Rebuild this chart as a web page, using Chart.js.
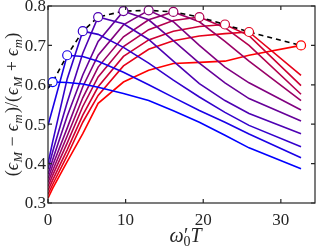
<!DOCTYPE html>
<html>
<head>
<meta charset="utf-8">
<script src="https://cdn.jsdelivr.net/npm/chart.js@4.4.1/dist/chart.umd.min.js"></script>
<style>
html, body { margin: 0; padding: 0; background: #fff; }
</style>
</head>
<body>
<canvas id="myChart" width="316" height="248"></canvas>
<script>
// ========== data
const xs = [0, 0.6, 2.47, 4.48, 6.46, 9.72, 12.97, 16.15, 19.5, 22.8, 25.9, 32.6]

const c0  = [0.591, 0.607, 0.606, 0.602, 0.594, 0.578, 0.560, 0.534, 0.505, 0.472, 0.440, 0.387]
const c1  = [0.497, 0.540, 0.675, 0.672, 0.660, 0.632, 0.600, 0.568, 0.535, 0.505, 0.475, 0.415]
const c2  = [0.400, 0.455, 0.615, 0.736, 0.728, 0.695, 0.655, 0.612, 0.569, 0.530, 0.497, 0.443]
const c3  = [0.386, 0.430, 0.555, 0.680, 0.772, 0.755, 0.715, 0.660, 0.603, 0.560, 0.527, 0.476]
const c4  = [0.373, 0.410, 0.520, 0.625, 0.710, 0.787, 0.765, 0.712, 0.655, 0.605, 0.565, 0.508]
const c5  = [0.362, 0.395, 0.490, 0.595, 0.675, 0.752, 0.789, 0.760, 0.700, 0.645, 0.605, 0.536]
const c6  = [0.352, 0.382, 0.470, 0.567, 0.645, 0.722, 0.765, 0.785, 0.760, 0.710, 0.660, 0.560]
const c7  = [0.342, 0.370, 0.452, 0.545, 0.620, 0.697, 0.740, 0.763, 0.772, 0.745, 0.700, 0.576]
const c8  = [0.332, 0.358, 0.435, 0.523, 0.595, 0.672, 0.714, 0.736, 0.748, 0.753, 0.725, 0.598]
const c9  = [0.322, 0.347, 0.420, 0.505, 0.573, 0.648, 0.690, 0.712, 0.724, 0.730, 0.734, 0.624]
const c10 = [0.312, 0.337, 0.405, 0.476, 0.553, 0.607, 0.637, 0.654, 0.657, 0.660, 0.675, 0.700]
const series = [c0, c1, c2, c3, c4, c5, c6, c7, c8, c9, c10]

// maxima of each curve (circles) and the dashed envelope
const peakX = [0.6, 2.47, 4.48, 6.46, 9.72, 12.97, 16.15, 19.5, 22.8, 25.9, 32.6]
const peakY = [0.607, 0.675, 0.736, 0.772, 0.787, 0.789, 0.785, 0.772, 0.753, 0.734, 0.700]
const envX = [0].concat(peakX)
const envY = [0.591].concat(peakY)

const xTicks = [0, 10, 20, 30]
const yTicks = [0.3, 0.4, 0.5, 0.6, 0.7, 0.8]
const yLabels = ['0.3', '0.4', '0.5', '0.6', '0.7', '0.8']

// blue -> red
const colors = [
	'rgb(0,0,255)', 'rgb(26,0,230)', 'rgb(51,0,204)', 'rgb(77,0,179)',
	'rgb(102,0,153)', 'rgb(128,0,128)', 'rgb(153,0,102)', 'rgb(179,0,77)',
	'rgb(204,0,51)', 'rgb(230,0,26)', 'rgb(255,0,0)'
]

const serif = "'Liberation Serif', 'DejaVu Serif', serif"
const ink = '#262626'

function pts(xv, yv){
	return xv.map((v, i) => ({x: v, y: yv[i]}))
}


// ========== frame, inward ticks and math titles

function setFont(ctx, st, size){
	let sub = st.indexOf('s') >= 0
	let it = st.indexOf('i') >= 0
	ctx.font = (it ? 'italic ' : '') + (sub ? size * 0.7 : size) + 'px ' + serif
	return sub
}

// parts: [text, style, extra gap]  n = normal, i = italic, s = subscript, p = prime (no advance)
function drawParts(ctx, parts, x, y, size){
	let cx = x
	parts.forEach(([t, st, gap]) => {
		let sub = setFont(ctx, st, size)
		if (st === 'p'){
			ctx.fillText(t, cx + 0.5, y)
			return
		}
		cx += (gap || 0)
		ctx.fillText(t, cx, y + (sub ? size * 0.22 : 0))
		cx += ctx.measureText(t).width + (gap || 0)
	})
}

function partsWidth(ctx, parts, size){
	let w = 0
	parts.forEach(([t, st, gap]) => {
		if (st === 'p') return
		setFont(ctx, st, size)
		w += ctx.measureText(t).width + 2 * (gap || 0)
	})
	return w
}

const yTitle = [
	['(', 'n'], ['\u03f5', 'i'], ['M', 'is', 0.5], ['\u2212', 'n', 5], ['\u03f5', 'i'], ['m', 'is', 0.5],
	[')/(', 'n', 1], ['\u03f5', 'i'], ['M', 'is', 0.5], ['+', 'n', 5], ['\u03f5', 'i'], ['m', 'is', 0.5], [')', 'n']
]
const xTitle = [['\u03c9', 'i'], ['\u2032', 'p'], ['0', 's'], ['T', 'i']]

const framePlugin = {
	id: 'frame',
	afterDatasetsDraw(chart){
		const {ctx, chartArea: a, scales} = chart
		ctx.save()
		ctx.strokeStyle = ink
		ctx.lineWidth = 1.2
		ctx.strokeRect(a.left, a.top, a.right - a.left, a.bottom - a.top)
		let tl = 4
		ctx.beginPath()
		xTicks.forEach(v => {
			let px = scales.x.getPixelForValue(v)
			ctx.moveTo(px, a.bottom); ctx.lineTo(px, a.bottom - tl)
			ctx.moveTo(px, a.top); ctx.lineTo(px, a.top + tl)
		})
		yTicks.forEach(v => {
			let py = scales.y.getPixelForValue(v)
			ctx.moveTo(a.left, py); ctx.lineTo(a.left + tl, py)
			ctx.moveTo(a.right, py); ctx.lineTo(a.right - tl, py)
		})
		ctx.stroke()

		// y tick labels, right aligned against the axis
		ctx.fillStyle = ink
		ctx.font = '17px ' + serif
		ctx.textAlign = 'right'
		ctx.textBaseline = 'middle'
		yTicks.forEach((v, i) => {
			ctx.fillText(yLabels[i], a.left - 2, scales.y.getPixelForValue(v) + 1)
		})
		ctx.restore()
	},
	afterDraw(chart){
		const {ctx, chartArea: a} = chart
		let size = 18
		ctx.save()
		ctx.fillStyle = ink
		ctx.textAlign = 'left'
		ctx.textBaseline = 'alphabetic'
		let w = partsWidth(ctx, yTitle, size)
		ctx.translate(18, (a.top + a.bottom) / 2 + w / 2)
		ctx.rotate(-Math.PI / 2)
		drawParts(ctx, yTitle, 0, 0, size)
		ctx.restore()

		ctx.save()
		ctx.fillStyle = ink
		ctx.textAlign = 'left'
		ctx.textBaseline = 'alphabetic'
		let wx = partsWidth(ctx, xTitle, 20)
		drawParts(ctx, xTitle, (a.left + a.right) / 2 - wx / 2 + 4, 242, 20)
		ctx.restore()
	}
}


// ========== setup chartjs

let datasets = series.map((s, i) => ({
	data: pts(xs, s),
	borderColor: colors[i],
	borderWidth: 1.6,
	pointRadius: 0,
	showLine: true,
	fill: false,
	order: 2
}))

datasets.push({
	data: pts(envX, envY),
	borderColor: '#000',
	borderDash: [5, 4],
	borderWidth: 1.6,
	pointRadius: 0,
	showLine: true,
	fill: false,
	order: 1
})

datasets.push({
	data: pts(peakX, peakY),
	showLine: false,
	pointRadius: 4.5,
	pointBorderColor: colors,
	pointBackgroundColor: '#fff',
	pointBorderWidth: 1.2,
	clip: false,
	order: 0
})

var ctx1 = document.getElementById('myChart').getContext('2d');
let myChart = new Chart(ctx1, {
type: 'scatter',
data: { datasets: datasets },
options: {
	responsive: false,
	animation: false,
	layout: { autoPadding: false, padding: { top: 6, right: 1, left: 0, bottom: 0 } },
	plugins: { legend: { display: false }, tooltip: { enabled: false } },
	scales: {
		x: {
			type: 'linear',
			min: 0,
			max: 34.4,
			grid: { display: false, drawTicks: false },
			border: { display: false },
			afterBuildTicks: s => { s.ticks = xTicks.map(v => ({value: v})) },
			afterFit: s => { s.height = 45 },
			ticks: { font: { family: serif, size: 17 }, color: ink, padding: 7, maxRotation: 0, autoSkip: false }
		},
		y: {
			min: 0.3,
			max: 0.8,
			grid: { display: false, drawTicks: false },
			border: { display: false },
			afterBuildTicks: s => { s.ticks = yTicks.map(v => ({value: v})) },
			afterFit: s => { s.width = 48 },
			ticks: { display: false }
		}
	}
},
plugins: [framePlugin]
});
</script>
</body>
</html>
